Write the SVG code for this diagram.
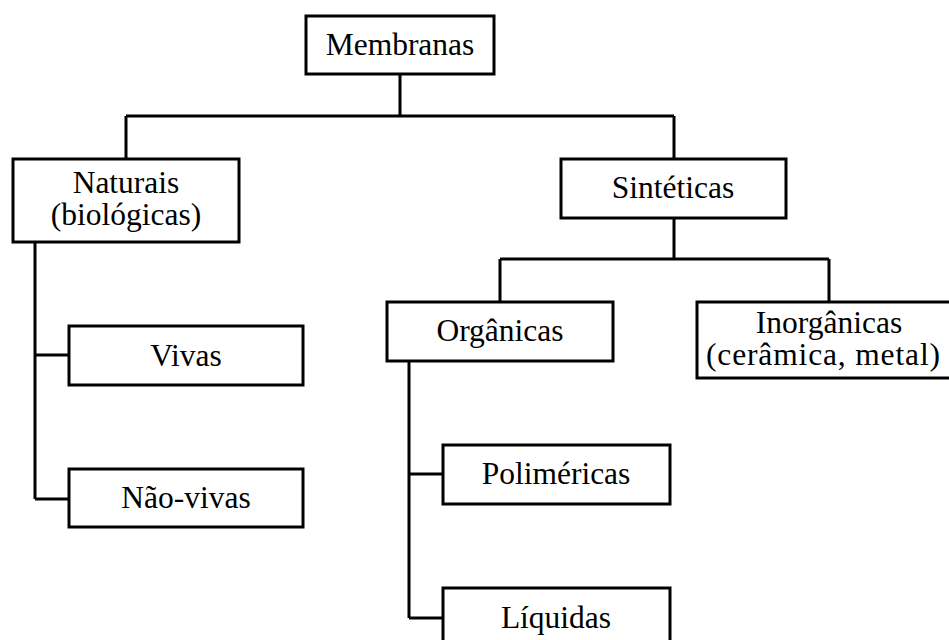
<svg xmlns="http://www.w3.org/2000/svg" width="949" height="640" viewBox="0 0 949 640">
<style>
.box{fill:#fff;stroke:#000;stroke-width:3}
.conn{fill:none;stroke:#000;stroke-width:3}
text{font-family:"Liberation Serif","Times New Roman",serif;font-size:31.5px;fill:#000;text-anchor:middle}
</style>
<rect width="949" height="640" fill="#fff"/>
<g id="connectors" class="conn">
<path d="M400 74V116M126 116H674M126 116V159M674 116V159"/>
<path d="M674 218V259M500 259H829M500 259V302M829 259V302"/>
<path d="M35 242V499M35 355H69M35 499H69"/>
<path d="M409 361V618M409 474H443M409 618H443"/>
</g>
<g id="membranas"><rect class="box" x="306" y="16" width="188" height="58"/><text x="400" y="55">Membranas</text></g>
<g id="naturais"><rect class="box" x="13" y="159" width="226" height="83"/><text x="126" y="193">Naturais</text><text x="126" y="225">(biológicas)</text></g>
<g id="sinteticas"><rect class="box" x="561" y="159" width="225" height="59"/><text x="673" y="198">Sintéticas</text></g>
<g id="organicas"><rect class="box" x="387" y="302" width="226" height="59"/><text x="500" y="341">Orgânicas</text></g>
<g id="inorganicas"><rect class="box" x="697" y="302" width="256" height="76"/><text x="829" y="333">Inorgânicas</text><text x="823" y="365" textLength="234" lengthAdjust="spacing">(cerâmica, metal)</text></g>
<g id="vivas"><rect class="box" x="69" y="326" width="234" height="59"/><text x="186" y="366">Vivas</text></g>
<g id="nao-vivas"><rect class="box" x="69" y="469" width="234" height="58"/><text x="186" y="508">Não-vivas</text></g>
<g id="polimericas"><rect class="box" x="443" y="445" width="227" height="59"/><text x="556" y="484">Poliméricas</text></g>
<g id="liquidas"><rect class="box" x="443" y="588" width="227" height="60"/><text x="556" y="628">Líquidas</text></g>
</svg>
